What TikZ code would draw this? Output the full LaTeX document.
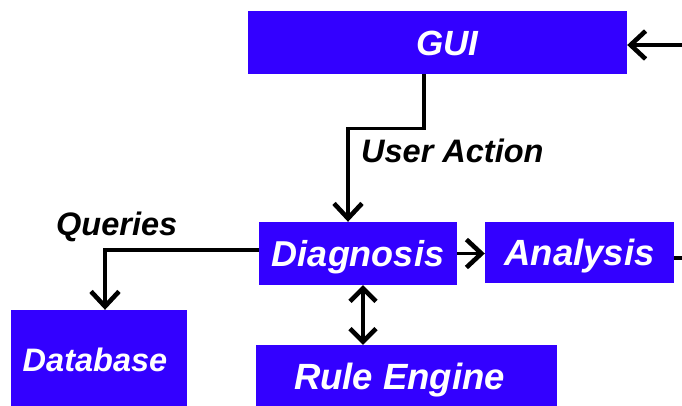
\documentclass[tikz,border=0pt]{standalone}
\usepackage{fontspec}
\setmainfont{Liberation Sans}
\usetikzlibrary{arrows.meta}
\definecolor{boxblue}{HTML}{3300FF}
\tikzset{
  block/.style={fill=boxblue, text=white, inner sep=0pt, anchor=center,
    font=\fontsize{36.5}{40}\selectfont\bfseries\itshape,
    text height=26pt, text depth=0pt},
  flow/.style={line width=3.4pt, line join=miter},
  tip/.style={-{Straight Barb[length=15pt,width=28pt,line width=1.2pt 1]}},
  dtip/.style={{Straight Barb[length=13pt,width=26pt,line width=1.2pt 1]}-{Straight Barb[length=13pt,width=26pt,line width=1.2pt 1]}},
  lbl/.style={font=\fontsize{32.5}{36}\selectfont\bfseries\itshape, inner sep=0pt}
}
\begin{document}
\begin{tikzpicture}[x=1pt,y=-1pt]
\useasboundingbox (0,0) rectangle (682,405);
\fill[white] (0,0) rectangle (682,405);

% blocks
\node[block, minimum width=379pt, minimum height=63pt, font=\fontsize{35}{40}\selectfont\bfseries\itshape, text height=25pt] (gui) at (437.5,42.5) {\hspace*{20pt}GUI};
\node[block, minimum width=198pt, minimum height=63pt, font=\fontsize{36}{40}\selectfont\bfseries\itshape] (diag) at (358,253.5) {Diagnosis};
\node[block, minimum width=189pt, minimum height=61pt] (ana) at (579.5,252.5) {Analysis};
\node[block, minimum width=176pt, minimum height=99pt, font=\fontsize{32.5}{36}\selectfont\bfseries\itshape, text height=23pt] (db) at (99,359.5) {Database\hspace*{8pt}};
\node[block, minimum width=301pt, minimum height=63pt] (re) at (406.5,376.5) {Rule Engine\hspace*{14pt}};

% free ends at the right margin
\coordinate (guiin)  at (682,45);
\coordinate (anaout) at (682,258);

% connectors
\draw[flow,tip] (guiin) -- (gui.east |- guiin);
\draw[flow,tip] ([xshift=-13.5pt]gui.south) -- ++(0,54) -| ([xshift=-10pt]diag.north);
\draw[flow,tip] (diag.east) -- (ana.west |- diag.east);
\draw[flow] (ana.east |- anaout) -- (anaout);
\draw[flow,tip] ([yshift=3.5pt]diag.west) -| ([xshift=6pt]db.north);
\draw[flow,dtip] ([xshift=5pt]diag.south) -- ([xshift=5pt]diag.south |- re.north);

% labels
\node[lbl, anchor=west] (ua) at (361,151) {User Action};
\node[lbl, anchor=west] (qu) at (56,227) {Queries};
\end{tikzpicture}
\end{document}
